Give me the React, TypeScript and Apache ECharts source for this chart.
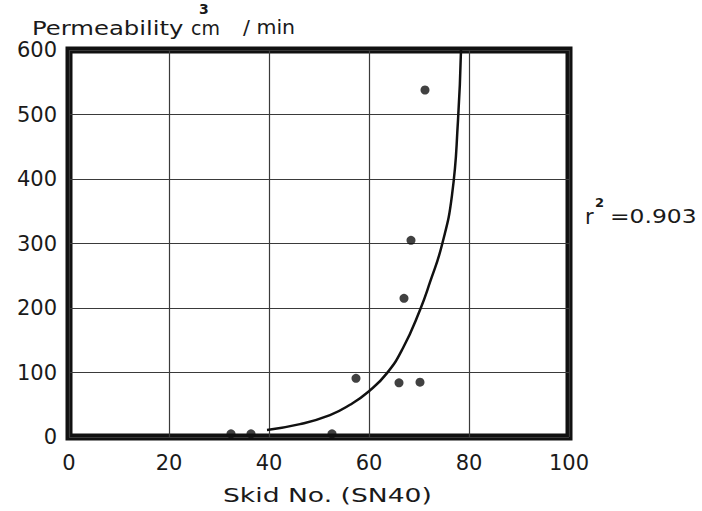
import React, { useEffect, useRef } from "react";
import * as echarts from "echarts";

// Measured points (Skid No. vs permeability)
const skidNo = [71.2, 68.4, 67.0, 57.4, 66.0, 70.2, 32.4, 36.4, 52.6];
const permeability = [538, 305, 215, 91, 84, 85, 5, 5, 5];

// Fitted curve
const fitSkid = [39.6, 46.2, 52.2, 56.2, 60.0, 63.6, 66.8, 70.2, 72.2, 74.6, 76.6, 77.8, 78.4];
const fitPerm = [11, 20, 34, 50, 71, 99, 138, 197, 240, 298, 375, 491, 600];

const xMin = 0, xMax = 100, xStep = 20;
const yMin = 0, yMax = 600, yStep = 100;

const FONT = "DejaVu Sans";
const INK = "#1a1a1a";

export default function App() {
  const ref = useRef<HTMLDivElement>(null);
  useEffect(() => {
    if (!ref.current) return;
    const chart = echarts.init(ref.current, undefined, { renderer: "svg" });
    const points = skidNo.map((x, i) => [x, permeability[i]]);
    const fit = fitSkid.map((x, i) => [x, fitPerm[i]]);
    chart.setOption({
      animation: false,
      backgroundColor: "#ffffff",
      grid: {
        left: 69,
        top: 50,
        width: 500,
        height: 387,
        show: true,
        borderColor: "#111",
        borderWidth: 7,
        backgroundColor: "transparent",
      },
      xAxis: {
        type: "value",
        min: xMin,
        max: xMax,
        interval: xStep,
        axisLine: { show: false },
        axisTick: { show: false },
        axisLabel: { color: INK, fontFamily: FONT, fontSize: 21, margin: 15 },
        splitLine: { show: true, lineStyle: { color: "#3a3a3a", width: 1.2 } },
      },
      yAxis: {
        type: "value",
        min: yMin,
        max: yMax,
        interval: yStep,
        axisLine: { show: false },
        axisTick: { show: false },
        axisLabel: { color: INK, fontFamily: FONT, fontSize: 21, margin: 12 },
        splitLine: { show: true, lineStyle: { color: "#3a3a3a", width: 1.2 } },
      },
      series: [
        {
          type: "line",
          data: fit,
          showSymbol: false,
          smooth: 0.5,
          lineStyle: { color: "#111", width: 2.5 },
          z: 3,
        },
        {
          type: "scatter",
          data: points,
          symbol: "circle",
          symbolSize: 9,
          itemStyle: { color: "#111" },
          z: 4,
        },
      ],
      graphic: [
        {
          type: "text",
          x: 32,
          y: 28,
          scaleX: 1.28,
          style: { text: "Permeability", font: `19px "${FONT}"`, fill: INK, verticalAlign: "middle" },
        },
        {
          type: "text",
          x: 191,
          y: 28,
          style: { text: "cm", font: `19px "${FONT}"`, fill: INK, verticalAlign: "middle" },
        },
        {
          type: "text",
          x: 199,
          y: 9,
          style: { text: "3", font: `bold 14px "${FONT}"`, fill: INK, verticalAlign: "middle" },
        },
        {
          type: "text",
          x: 243,
          y: 28,
          scaleX: 1.08,
          style: { text: "/ min", font: `19px "${FONT}"`, fill: INK, verticalAlign: "middle" },
        },
        {
          type: "text",
          x: 223,
          y: 495,
          scaleX: 1.33,
          style: { text: "Skid No. (SN40)", font: `20px "${FONT}"`, fill: INK, verticalAlign: "middle" },
        },
        {
          type: "text",
          x: 585,
          y: 217,
          style: { text: "r", font: `21px "${FONT}"`, fill: INK, verticalAlign: "middle" },
        },
        {
          type: "text",
          x: 595,
          y: 202,
          style: { text: "2", font: `bold 13px "${FONT}"`, fill: INK, verticalAlign: "middle" },
        },
        {
          type: "text",
          x: 610,
          y: 216,
          scaleX: 1.17,
          style: { text: "=0.903", font: `20px "${FONT}"`, fill: INK, verticalAlign: "middle" },
        },
      ],
    });
    return () => chart.dispose();
  }, []);
  return (
    <div
      ref={ref}
      style={{ position: "fixed", left: 0, top: 0, width: 702, height: 511, background: "#fff" }}
    />
  );
}
